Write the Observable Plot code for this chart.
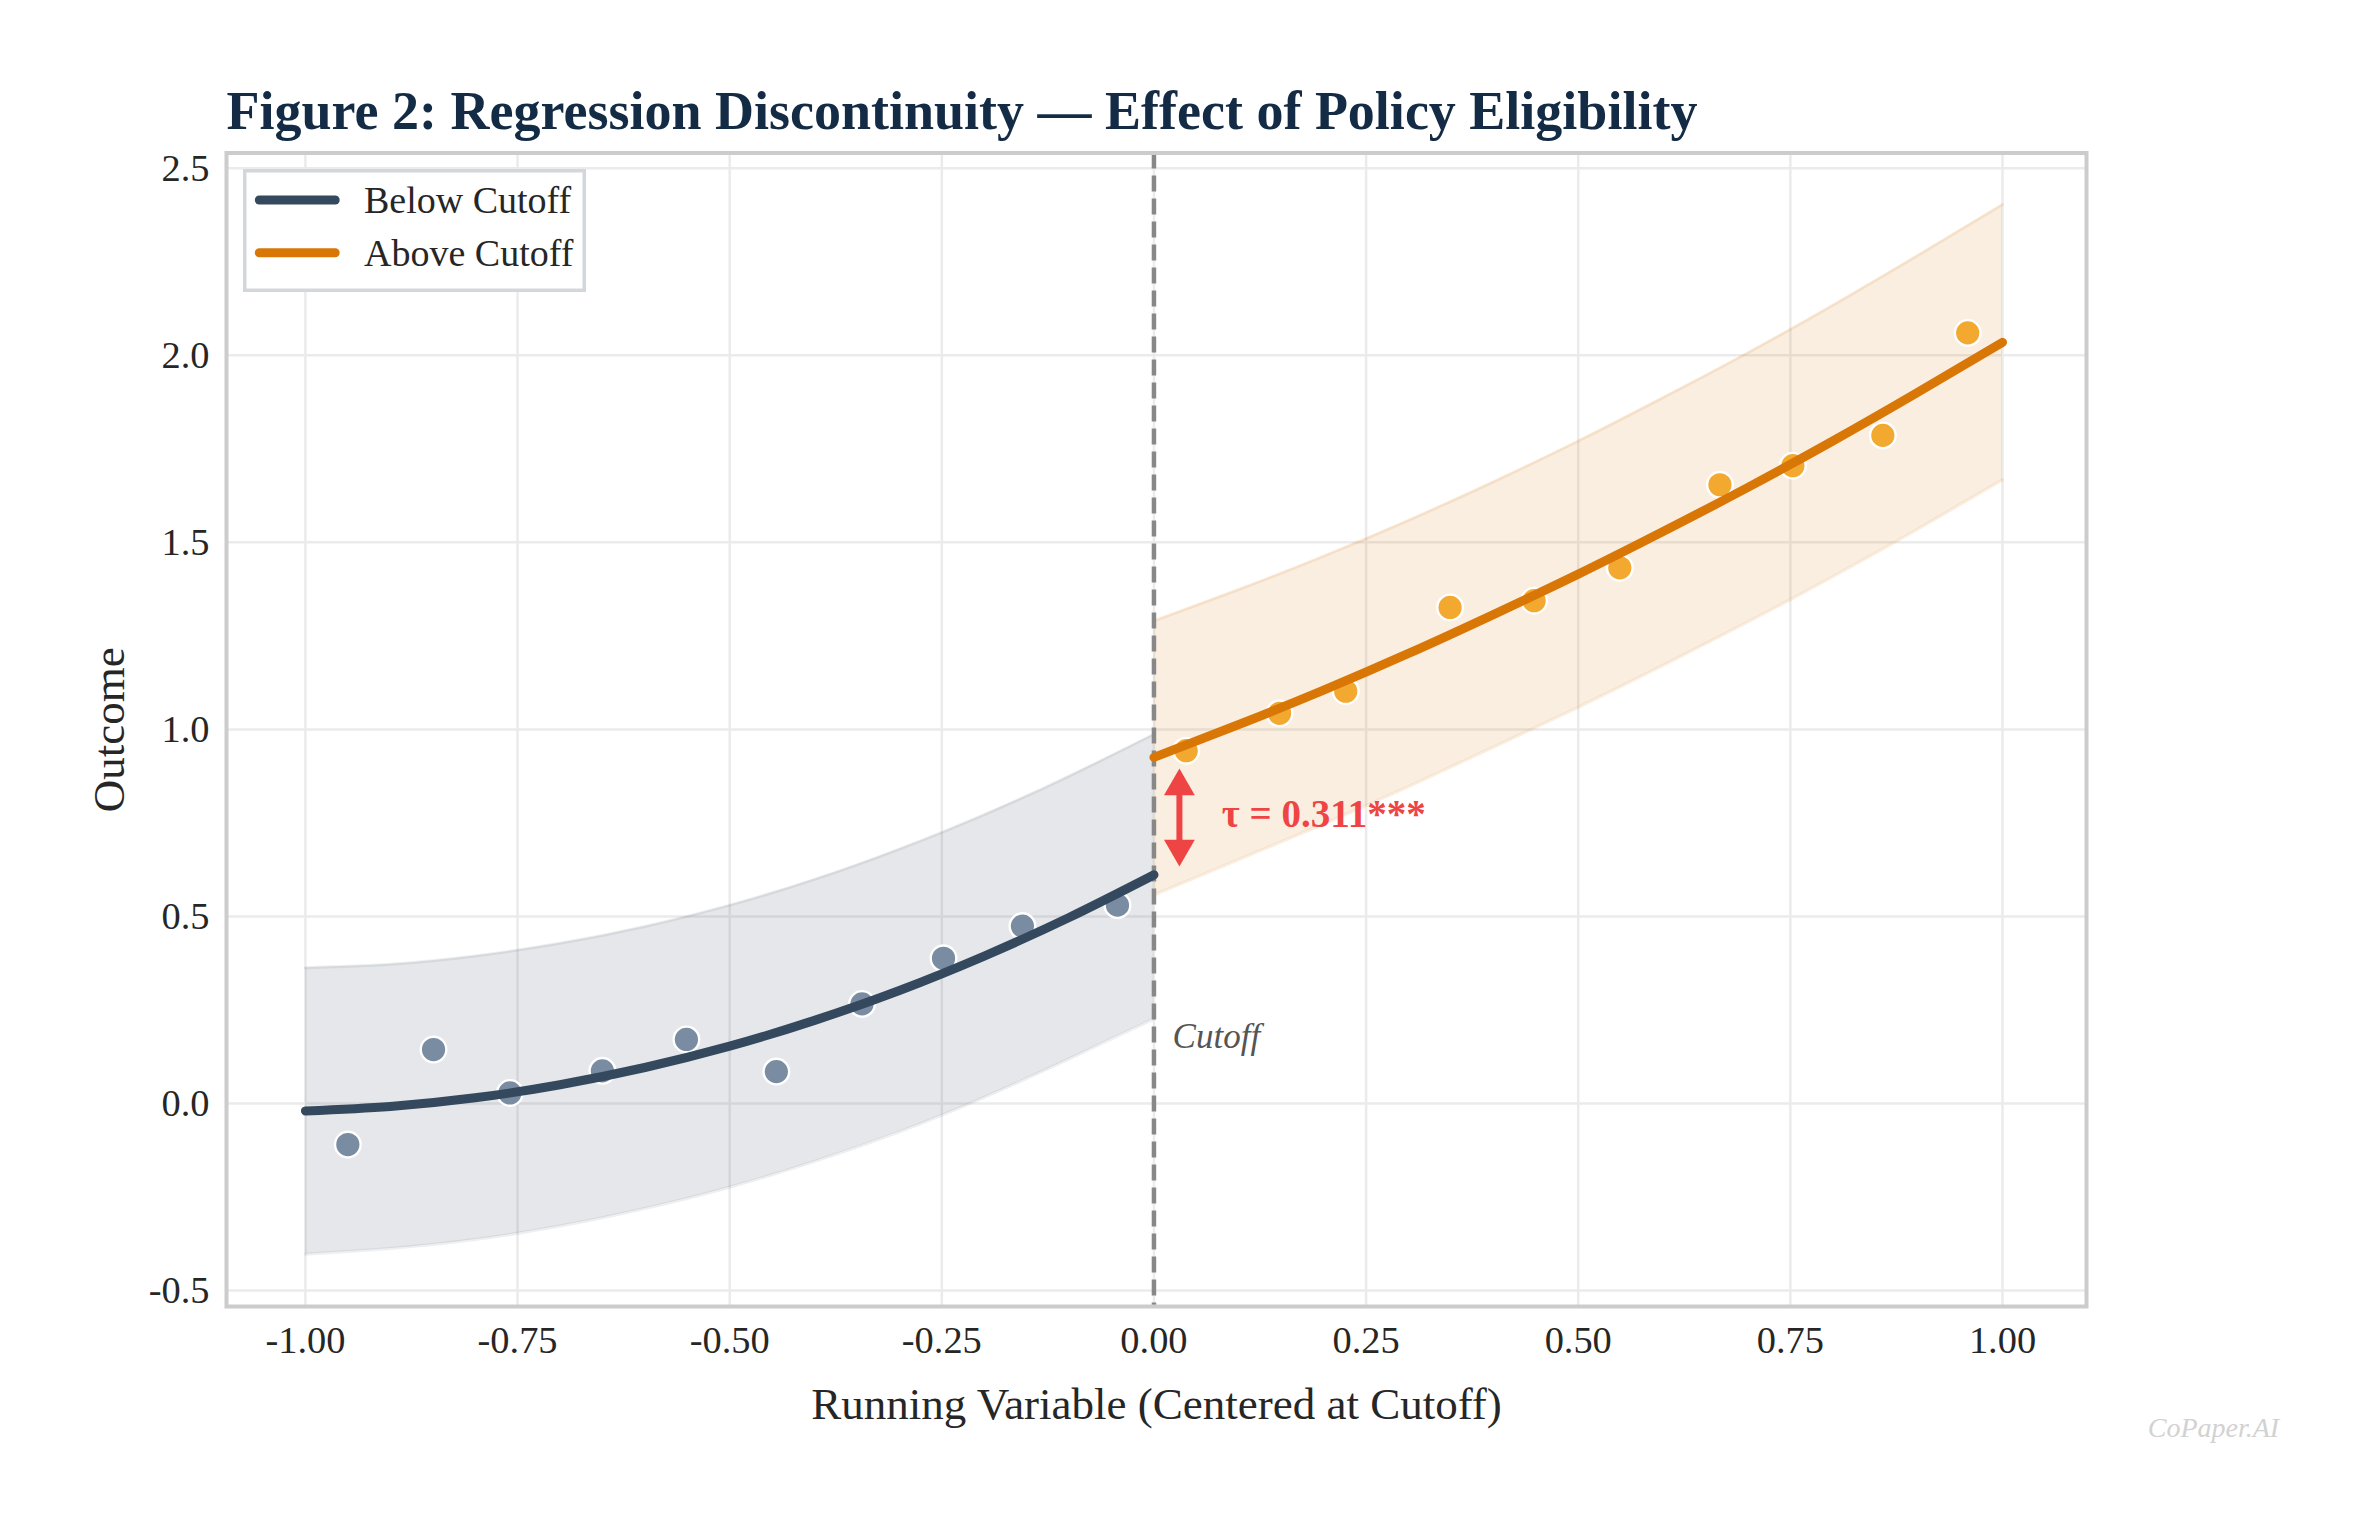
<!DOCTYPE html>
<html>
<head>
<meta charset="utf-8">
<script src="https://cdn.jsdelivr.net/npm/d3@7"></script>
<script src="https://cdn.jsdelivr.net/npm/@observablehq/plot@0.6"></script>
<style>
  html, body { margin: 0; padding: 0; background: #ffffff; }
  #wrap { position: relative; width: 2367px; height: 1532px; overflow: hidden; }
  #legend { position: absolute; left: 243px; top: 169px; }
</style>
</head>
<body>
<div id="wrap"></div>
<script>
// ---- binned means ----
const belowBinX = [-0.950, -0.849, -0.759, -0.650, -0.551, -0.445, -0.344, -0.248, -0.155, -0.043];
const belowBinY = [-0.110, 0.144, 0.028, 0.087, 0.171, 0.085, 0.266, 0.388, 0.474, 0.530];
const aboveBinX = [0.038, 0.148, 0.226, 0.349, 0.448, 0.549, 0.667, 0.753, 0.859, 0.959];
const aboveBinY = [0.943, 1.043, 1.102, 1.326, 1.344, 1.432, 1.654, 1.705, 1.786, 2.060];

// ---- fitted curves and confidence bands ----
const belowGridX = [-1.0, -0.9, -0.8, -0.7, -0.6, -0.5, -0.4, -0.3, -0.2, -0.1, 0.0];
const belowFit   = [-0.020, -0.008, 0.015, 0.050, 0.096, 0.153, 0.222, 0.302, 0.394, 0.497, 0.611];
const belowUpper = [0.363, 0.372, 0.394, 0.428, 0.473, 0.530, 0.599, 0.680, 0.772, 0.875, 0.987];
const belowLower = [-0.403, -0.388, -0.364, -0.328, -0.281, -0.224, -0.155, -0.076, 0.016, 0.119, 0.226];

const aboveGridX = [0.0, 0.1, 0.2, 0.3, 0.4, 0.5, 0.6, 0.7, 0.8, 0.9, 1.0];
const aboveFit   = [0.925, 1.013, 1.105, 1.203, 1.307, 1.415, 1.529, 1.647, 1.771, 1.901, 2.035];
const aboveUpper = [1.290, 1.374, 1.463, 1.559, 1.662, 1.771, 1.887, 2.007, 2.134, 2.267, 2.403];
const aboveLower = [0.557, 0.652, 0.747, 0.847, 0.952, 1.059, 1.171, 1.287, 1.408, 1.535, 1.667];

// ---- ticks ----
const xTicks = [-1.0, -0.75, -0.5, -0.25, 0.0, 0.25, 0.5, 0.75, 1.0];
const yTicks = [-0.5, 0.0, 0.5, 1.0, 1.5, 2.0, 2.5];

// ---- annotations ----
const cutoffX = [0];
const arrowX = [0.03];
const arrowTopY = [0.885];
const arrowBottomY = [0.644];
const tauText = ["τ = 0.311***"];
const tauX = [0.080];
const tauY = [0.738];
const cutoffText = ["Cutoff"];
const cutoffTextX = [0.022];
const cutoffTextY = [0.148];

// ---- texts ----
const titleText = "Figure 2: Regression Discontinuity — Effect of Policy Eligibility";
const xLabel = "Running Variable (Centered at Cutoff)";
const yLabel = "Outcome";
const watermark = "CoPaper.AI";
const seriesNames = ["Below Cutoff", "Above Cutoff"];
const seriesColors = ["#34495E", "#D97706"];

// ---- tables ----
const belowPts = belowBinX.map((x, i) => ({x, y: belowBinY[i]}));
const abovePts = aboveBinX.map((x, i) => ({x, y: aboveBinY[i]}));
const belowCurve = belowGridX.map((x, i) => ({x, fit: belowFit[i], lo: belowLower[i], hi: belowUpper[i]}));
const aboveCurve = aboveGridX.map((x, i) => ({x, fit: aboveFit[i], lo: aboveLower[i], hi: aboveUpper[i]}));
const arrow = arrowX.map((x, i) => ({x, top: arrowTopY[i], bottom: arrowBottomY[i]}));
const tau = tauText.map((t, i) => ({x: tauX[i], y: tauY[i], t}));
const cut = cutoffText.map((t, i) => ({x: cutoffTextX[i], y: cutoffTextY[i], t}));

const FONT = "'Liberation Serif', 'Times New Roman', Times, serif";
const RED = "#EF4444";

const chart = Plot.plot({
  width: 2367,
  height: 1532,
  marginLeft: 226,
  marginRight: 281,
  marginTop: 152.5,
  marginBottom: 226,
  style: {fontFamily: FONT, background: "#ffffff", overflow: "visible"},
  x: {domain: [-1.093, 1.099]},
  y: {domain: [-0.543, 2.541]},
  marks: [
    Plot.gridX(xTicks, {stroke: "#ebebeb", strokeOpacity: 1, strokeWidth: 2.5}),
    Plot.gridY(yTicks, {stroke: "#ebebeb", strokeOpacity: 1, strokeWidth: 2.5}),

    // confidence bands
    Plot.areaY(belowCurve, {x: "x", y1: "lo", y2: "hi", fill: seriesColors[0], fillOpacity: 0.13, curve: "natural"}),
    Plot.lineY(belowCurve, {x: "x", y: "hi", stroke: seriesColors[0], strokeOpacity: 0.09, strokeWidth: 3, curve: "natural"}),
    Plot.lineY(belowCurve, {x: "x", y: "lo", stroke: seriesColors[0], strokeOpacity: 0.09, strokeWidth: 3, curve: "natural"}),
    Plot.areaY(aboveCurve, {x: "x", y1: "lo", y2: "hi", fill: seriesColors[1], fillOpacity: 0.12, curve: "natural"}),
    Plot.lineY(aboveCurve, {x: "x", y: "hi", stroke: seriesColors[1], strokeOpacity: 0.12, strokeWidth: 3, curve: "natural"}),
    Plot.lineY(aboveCurve, {x: "x", y: "lo", stroke: seriesColors[1], strokeOpacity: 0.12, strokeWidth: 3, curve: "natural"}),

    // cutoff line
    Plot.ruleX(cutoffX, {stroke: "#888888", strokeWidth: 4.5, strokeDasharray: "16,7"}),

    // binned means
    Plot.dot(belowPts, {x: "x", y: "y", r: 12.8, fill: "#7a8ca1", stroke: "#ffffff", strokeWidth: 2.4}),
    Plot.dot(abovePts, {x: "x", y: "y", r: 12.8, fill: "#f3a82f", stroke: "#ffffff", strokeWidth: 2.4}),

    // fitted lines
    Plot.lineY(belowCurve, {x: "x", y: "fit", stroke: seriesColors[0], strokeWidth: 9, curve: "natural", strokeLinecap: "round"}),
    Plot.lineY(aboveCurve, {x: "x", y: "fit", stroke: seriesColors[1], strokeWidth: 9, curve: "natural", strokeLinecap: "round"}),

    // double arrow
    Plot.ruleX(arrow, {x: "x", y1: "top", y2: "bottom", stroke: RED, strokeWidth: 6, insetTop: 16, insetBottom: 16}),
    Plot.dot(arrow, {x: "x", y: "top", symbol: "triangle", r: 11.45, fill: RED, stroke: "none", dy: 13.9}),
    Plot.dot(arrow, {x: "x", y: "bottom", symbol: "triangle", r: 11.45, fill: RED, stroke: "none", rotate: 180, dy: -13.9}),

    Plot.text(tau, {x: "x", y: "y", text: "t", textAnchor: "start", lineAnchor: "bottom", fontSize: 39, fontWeight: "bold", fill: RED, fontFamily: FONT}),
    Plot.text(cut, {x: "x", y: "y", text: "t", textAnchor: "start", lineAnchor: "bottom", fontSize: 35, fontStyle: "italic", fill: "#555555", fontFamily: FONT}),

    // axes
    Plot.axisX(xTicks, {tickFormat: d => d.toFixed(2), tickSize: 0, tickPadding: 19, fontSize: 38.4, color: "#262626", label: null, fontFamily: FONT}),
    Plot.axisY(yTicks, {tickFormat: d => d.toFixed(1), tickSize: 0, tickPadding: 17, fontSize: 38.4, color: "#262626", label: null, fontFamily: FONT}),
    Plot.frame({stroke: "#cccccc", strokeWidth: 4}),

    // titles and labels
    Plot.text([titleText], {frameAnchor: "top-left", text: d => d, textAnchor: "start", lineAnchor: "bottom", dy: -24.5, dx: 0, fontSize: 54, fontWeight: "bold", fill: "#142b45", fontFamily: FONT}),
    Plot.text([xLabel], {frameAnchor: "bottom", text: d => d, textAnchor: "middle", lineAnchor: "bottom", dy: 112, fontSize: 45, fill: "#262626", fontFamily: FONT}),
    Plot.text([yLabel], {frameAnchor: "left", text: d => d, textAnchor: "middle", lineAnchor: "bottom", rotate: -90, dx: -103, fontSize: 45, fill: "#262626", fontFamily: FONT}),
    Plot.text([watermark], {frameAnchor: "bottom-right", text: d => d, textAnchor: "end", lineAnchor: "bottom", dx: 192.7, dy: 130.7, fontSize: 28, fontStyle: "italic", fill: "#d2d2d2", fontFamily: FONT})
  ]
});

const wrap = document.getElementById("wrap");
wrap.appendChild(chart);

// ---- legend ----
const ns = "http://www.w3.org/2000/svg";
const lg = document.createElementNS(ns, "svg");
lg.setAttribute("id", "legend");
lg.setAttribute("width", "343");
lg.setAttribute("height", "123");
const box = document.createElementNS(ns, "rect");
box.setAttribute("x", "1.75"); box.setAttribute("y", "1.75");
box.setAttribute("width", "339.5"); box.setAttribute("height", "119.5");
box.setAttribute("fill", "#ffffff"); box.setAttribute("stroke", "#d3d6da"); box.setAttribute("stroke-width", "3.5");
lg.appendChild(box);
const rowY = [31, 83.7];
seriesNames.forEach((name, i) => {
  const ln = document.createElementNS(ns, "line");
  ln.setAttribute("x1", "16.3"); ln.setAttribute("x2", "92.2");
  ln.setAttribute("y1", rowY[i]); ln.setAttribute("y2", rowY[i]);
  ln.setAttribute("stroke", seriesColors[i]); ln.setAttribute("stroke-width", "9");
  ln.setAttribute("stroke-linecap", "round");
  lg.appendChild(ln);
  const tx = document.createElementNS(ns, "text");
  tx.setAttribute("x", "121"); tx.setAttribute("y", rowY[i] + 13.3);
  tx.setAttribute("font-family", FONT); tx.setAttribute("font-size", "38");
  tx.setAttribute("fill", "#262626");
  tx.textContent = name;
  lg.appendChild(tx);
});
wrap.appendChild(lg);
</script>
</body>
</html>
